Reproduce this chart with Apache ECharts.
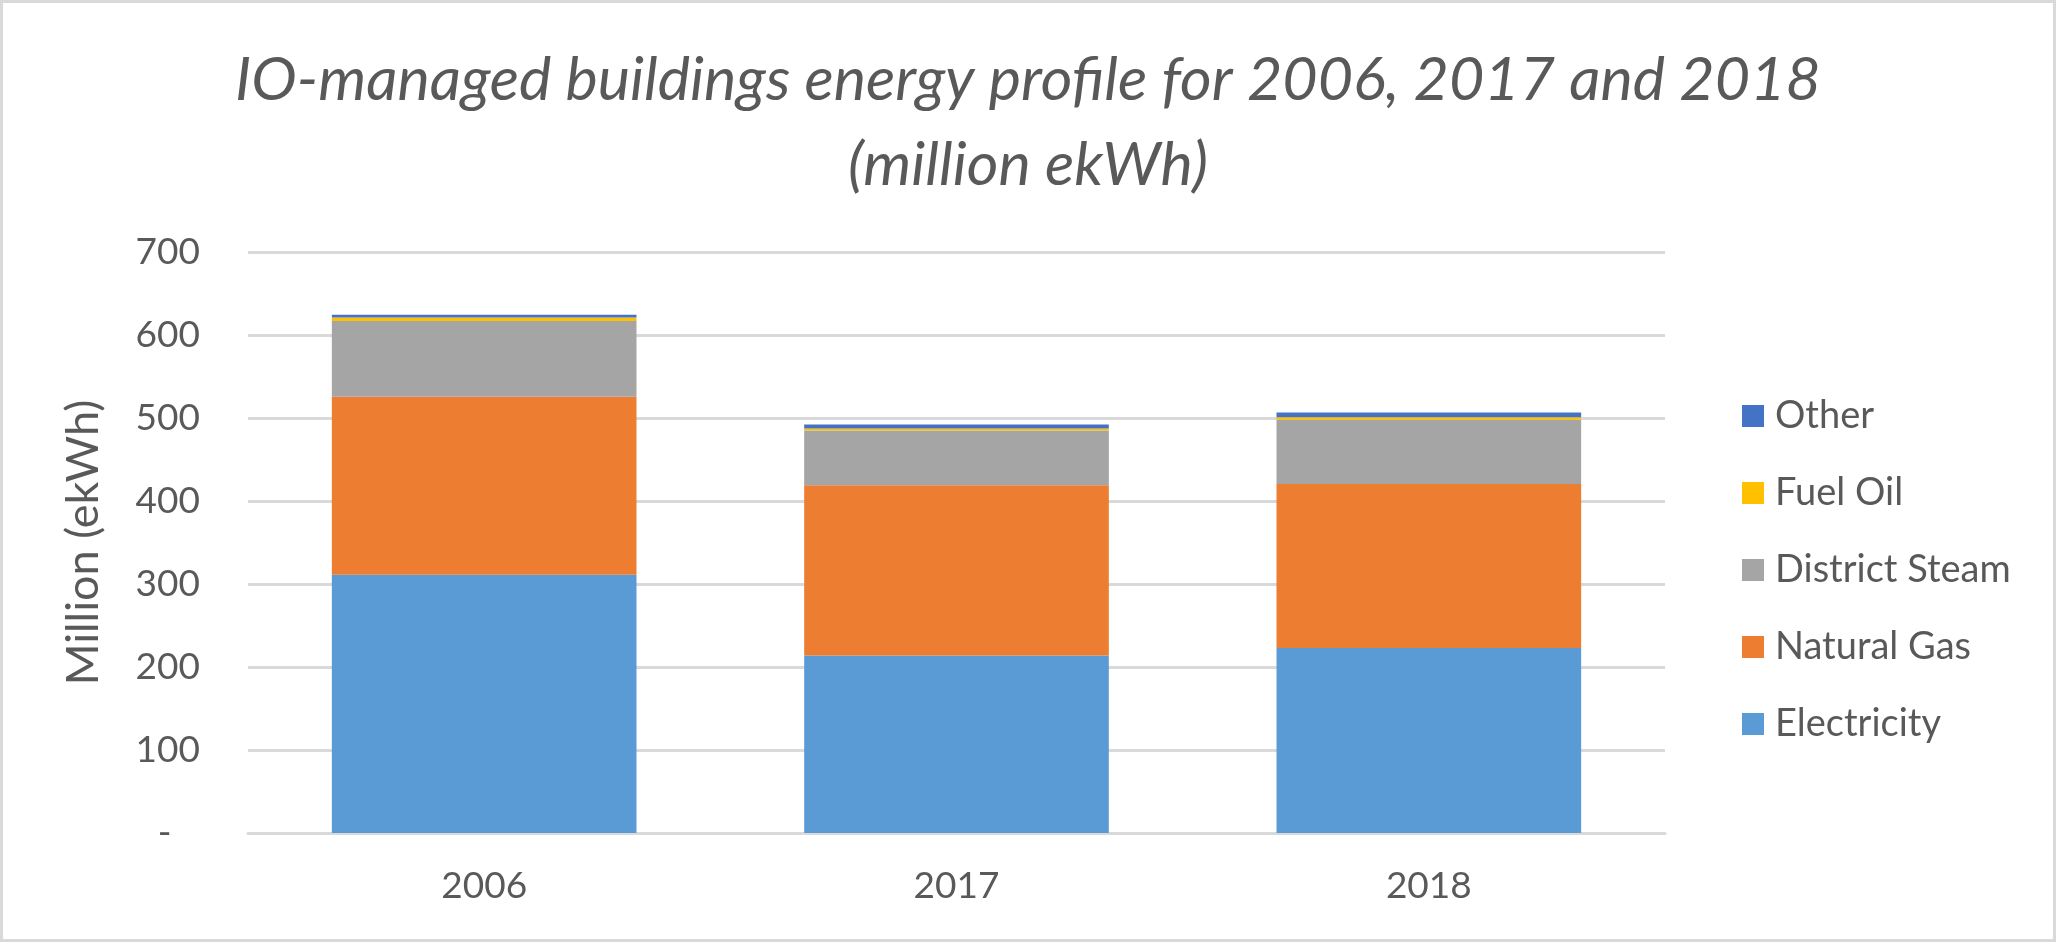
<!DOCTYPE html>
<html>
<head>
<meta charset="utf-8">
<script src="https://cdn.jsdelivr.net/npm/echarts@6/dist/echarts.min.js"></script>
<style>
    html, body { margin: 0; padding: 0; background: #fff; }
    #main { width: 2056px; height: 942px; box-sizing: border-box; border: 3px solid #d9d9d9; }
</style>
</head>
<body>
<div id="main"></div>
<script>
var years = ['2006', '2017', '2018']
var electricity = [311, 214, 223]
var naturalGas = [214.5, 205, 197.5]
var districtSteam = [91.5, 66, 77.5]
var fuelOil = [4, 2.5, 3]
var other = [3.5, 4.8, 5.7]

var font = 'Lato'
var textColor = '#595959'

var chartDom = document.getElementById('main');
var myChart = echarts.init(chartDom);

function bar(name, data, color) {
    return {
        name: name,
        type: 'bar',
        stack: 'total',
        barWidth: '64.5%',
        itemStyle: { color: color },
        data: data
    }
}

var option = {
    animation: false,
    title: {
        text: 'IO-managed buildings energy profile for 2006, 2017 and 2018\n(million ekWh)',
        left: 'center',
        top: 30,
        textStyle: {
            fontFamily: font,
            fontSize: 61,
            fontStyle: 'italic',
            fontWeight: 'normal',
            lineHeight: 85,
            color: textColor
        }
    },
    legend: {
        orient: 'vertical',
        left: 1734,
        top: 387,
        itemWidth: 22,
        itemHeight: 22,
        itemGap: 35,
        icon: 'rect',
        data: ['Other', 'Fuel Oil', 'District Steam', 'Natural Gas', 'Electricity'],
        textStyle: {
            fontFamily: font,
            fontSize: 38,
            lineHeight: 42,
            color: textColor,
            padding: [0, 0, 0, 6]
        }
    },
    grid: {
        left: 245,
        right: 388,
        top: 249,
        bottom: 106
    },
    xAxis: {
        type: 'category',
        data: years,
        axisTick: { show: false },
        axisLine: { lineStyle: { color: '#d9d9d9', width: 3 } },
        axisLabel: {
            margin: 35,
            fontFamily: font,
            fontSize: 37,
            color: textColor
        }
    },
    yAxis: {
        type: 'value',
        min: 0,
        max: 700,
        interval: 100,
        name: 'Million (ekWh)',
        nameLocation: 'middle',
        nameGap: 142,
        nameRotate: 90,
        nameTextStyle: {
            fontFamily: font,
            fontSize: 45,
            color: textColor
        },
        axisLine: { show: false },
        axisTick: { show: false },
        splitLine: { lineStyle: { color: '#d9d9d9', width: 3 } },
        axisLabel: {
            margin: 48,
            fontFamily: font,
            fontSize: 37,
            color: textColor,
            formatter: function (v) { return v === 0 ? '-   ' : v; }
        }
    },
    series: [
        bar('Electricity', electricity, '#5b9bd5'),
        bar('Natural Gas', naturalGas, '#ed7d31'),
        bar('District Steam', districtSteam, '#a5a5a5'),
        bar('Fuel Oil', fuelOil, '#ffc000'),
        bar('Other', other, '#4472c4')
    ]
};

myChart.setOption(option);
</script>
</body>
</html>
